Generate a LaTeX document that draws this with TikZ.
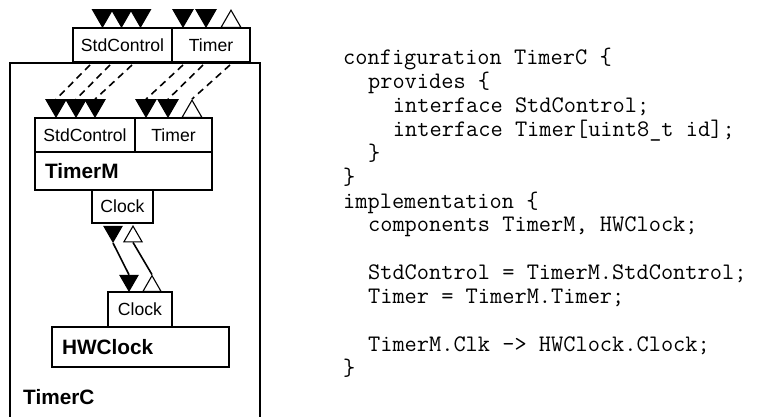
\documentclass[tikz,border=0pt]{standalone}
\usepackage{fontspec}
\setmainfont{Liberation Sans}
\usetikzlibrary{shapes.geometric}

\begin{document}
\begin{tikzpicture}[x=1pt,y=-1pt]

\tikzset{iface/.style = {shape=rectangle,draw,line width=1.3pt,inner sep=0pt,minimum height=34pt,font=\fontsize{17.6}{20}\selectfont}}
\tikzset{comp/.style = {shape=rectangle,draw,line width=1.3pt,inner xsep=10pt,inner ysep=0pt,text width=157pt,align=left,font=\bfseries\fontsize{20.8}{24}\selectfont}}
\tikzset{uses/.style = {regular polygon,regular polygon sides=3,shape border rotate=180,draw,fill=black,line width=1pt,inner sep=0pt,minimum size=23pt}}
\tikzset{gives/.style = {regular polygon,regular polygon sides=3,draw,fill=white,line width=1.1pt,inner sep=0pt,minimum size=23pt}}
\tikzset{wire/.style = {line width=1.6pt}}
\tikzset{export/.style = {line width=1.6pt,dash pattern=on 7pt off 5pt}}

\useasboundingbox (0,0) rectangle (760,417);

% TimerC outline, open at the bottom
\draw[line width=1.3pt] (10,420) -- (10,63) -- (260,63) -- (260,420);
\node[anchor=west,inner sep=0pt,font=\bfseries\fontsize{20.8}{24}\selectfont] (lTimerC) at (23,397.5) {TimerC};

% interfaces of TimerC
\node[iface,minimum width=99pt] (cStd) at (122.5,45) {StdControl};
\node[iface,minimum width=78pt] (cTimer) at (211,45) {Timer};
\node[uses,anchor=corner 1] (tS1) at (102.5,28) {};
\node[uses,anchor=corner 1] (tS2) at (121.5,28) {};
\node[uses,anchor=corner 1] (tS3) at (140.5,28) {};
\node[uses,anchor=corner 1] (tT1) at (183,28) {};
\node[uses,anchor=corner 1] (tT2) at (206,28) {};
\node[gives,anchor=side 2] (tT3) at (231,28) {};

% TimerM
\node[iface,minimum width=100pt] (mStd) at (85,135) {StdControl};
\node[iface,minimum width=77pt] (mTimer) at (173.5,135) {Timer};
\node[comp,minimum height=38pt] (TimerM) at (123.5,171) {TimerM};
\node[iface,minimum width=61pt,minimum height=33pt] (mClock) at (122.5,206.5) {Clock};
\node[uses,anchor=corner 1] (iS1) at (56,118) {};
\node[uses,anchor=corner 1] (iS2) at (76,118) {};
\node[uses,anchor=corner 1] (iS3) at (95,118) {};
\node[uses,anchor=corner 1] (iT1) at (146,118) {};
\node[uses,anchor=corner 1] (iT2) at (168,118) {};
\node[gives,anchor=side 2] (iT3) at (192,118) {};

% HWClock
\node[iface,minimum width=64pt,minimum height=35pt] (hClock) at (140,309.5) {Clock};
\node[comp,minimum height=40pt] (HWClock) at (140.5,347) {HWClock};

% pass-through edges
\coordinate (xS1) at (90,65);
\coordinate (xS2) at (110,65);
\coordinate (xS3) at (132,65);
\coordinate (xT1) at (183,65);
\coordinate (xT2) at (203,65);
\coordinate (xT3) at (230,65);
\draw[export] (xS1) -- (iS1.side 2);
\draw[export] (xS2) -- (iS2.side 2);
\draw[export] (xS3) -- (iS3.side 2);
\draw[export] (xT1) -- (iT1.side 2);
\draw[export] (xT2) -- (iT2.side 2);
\draw[export] (xT3) -- (iT3.corner 1);

% Clk -> Clock
\node[uses,anchor=corner 1,minimum size=21pt] (kU1) at (113,243) {};
\node[gives,anchor=corner 1,minimum size=21pt] (kU2) at (133,225) {};
\node[uses,anchor=corner 1,minimum size=21pt] (kL1) at (129,292) {};
\node[gives,anchor=side 2,minimum size=21pt] (kL2) at (152,292) {};
\draw[wire] (kU1.corner 1) -- (kL1.side 2);
\draw[wire] (kU2.side 2) -- (kL2.corner 1);

% source
\node[anchor=base west,inner sep=0pt,align=left,font=\ttfamily\fontsize{23.7}{23.85}\selectfont\frenchspacing] (src) at (343,375) {configuration TimerC \{\\
\hspace*{1.05em}provides \{\\
\hspace*{2.1em}interface StdControl;\\
\hspace*{2.1em}interface Timer[uint8\_t id];\\
\hspace*{1.05em}\}\\
\}\\
implementation \{\\
\hspace*{1.05em}components TimerM, HWClock;\\
\mbox{}\\
\hspace*{1.05em}StdControl = TimerM.StdControl;\\
\hspace*{1.05em}Timer = TimerM.Timer;\\
\mbox{}\\
\hspace*{1.05em}TimerM.Clk -> HWClock.Clock;\\
\}};
\end{tikzpicture}
\end{document}
